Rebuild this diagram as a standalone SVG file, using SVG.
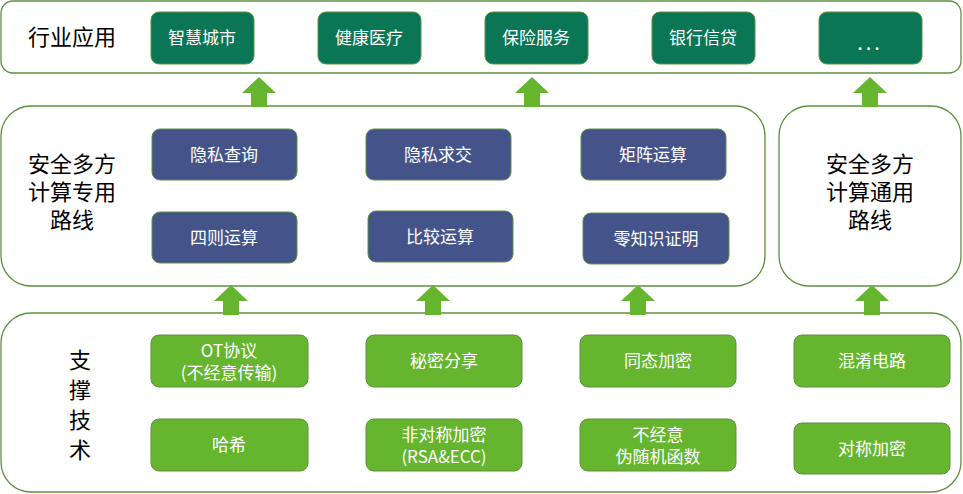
<svg xmlns="http://www.w3.org/2000/svg" width="963" height="494" viewBox="0 0 963 494">
<defs><style>
.c{fill:#fff;stroke:#5f9140;stroke-width:1.3}
.a{fill:#0b7656;stroke:#5f9140;stroke-width:1}
.b{fill:#44548a;stroke:#5f9140;stroke-width:1}
.g{fill:#66b52f;stroke:#5f9140;stroke-width:1}
.ar{fill:#66b52f}
text{font-family:"Noto Sans CJK SC","Liberation Sans",sans-serif;text-anchor:middle}
.l{font-size:22px;fill:#000}
.t{font-size:17px;fill:#fff}
</style>
<path id="up" d="M-17,14 L0,-2 L17,14 L8,14 L8,28 L-8,28 L-8,14Z"/></defs>
<g id="containers">
<rect class="c" x="1" y="1" width="960" height="72" rx="12"/>
<rect class="c" x="1" y="106" width="764" height="180" rx="30"/>
<rect class="c" x="779" y="106" width="182" height="180" rx="30"/>
<rect class="c" x="1" y="313" width="960" height="179" rx="30"/>
<text class="l" x="72" y="45">行业应用</text>
<text class="l" x="72" y="172">安全多方</text><text class="l" x="72" y="200">计算专用</text><text class="l" x="72" y="228">路线</text>
<text class="l" x="870" y="172">安全多方</text><text class="l" x="870" y="200">计算通用</text><text class="l" x="870" y="228">路线</text>
<text class="l" x="80" y="368">支</text><text class="l" x="80" y="398">撑</text><text class="l" x="80" y="428">技</text><text class="l" x="80" y="458">术</text>
</g>
<g id="connectors">
<use href="#up" class="ar" x="259" y="79"/><use href="#up" class="ar" x="532" y="79"/><use href="#up" class="ar" x="870" y="79"/>
<use href="#up" class="ar" x="231" y="287"/><use href="#up" class="ar" x="433" y="287"/><use href="#up" class="ar" x="638" y="287"/><use href="#up" class="ar" x="872" y="287"/>
</g>
<g id="n1"><rect class="a" x="151" y="12" width="103" height="52" rx="8"/><text class="t" x="202" y="44">智慧城市</text></g>
<g id="n2"><rect class="a" x="318" y="12" width="103" height="52" rx="8"/><text class="t" x="369" y="44">健康医疗</text></g>
<g id="n3"><rect class="a" x="485" y="12" width="103" height="52" rx="8"/><text class="t" x="536" y="44">保险服务</text></g>
<g id="n4"><rect class="a" x="652" y="12" width="103" height="52" rx="8"/><text class="t" x="703" y="44">银行信贷</text></g>
<g id="n5"><rect class="a" x="819" y="12" width="103" height="52" rx="8"/><text class="t" x="870" y="50" style="font-size:20px;letter-spacing:3px">...</text></g>
<g id="m1"><rect class="b" x="152" y="129" width="145" height="51" rx="8"/><text class="t" x="224" y="161">隐私查询</text></g>
<g id="m2"><rect class="b" x="366" y="129" width="145" height="51" rx="8"/><text class="t" x="438" y="161">隐私求交</text></g>
<g id="m3"><rect class="b" x="581" y="129" width="145" height="51" rx="8"/><text class="t" x="653" y="161">矩阵运算</text></g>
<g id="m4"><rect class="b" x="152" y="212" width="145" height="51" rx="8"/><text class="t" x="224" y="244">四则运算</text></g>
<g id="m5"><rect class="b" x="368" y="211" width="145" height="51" rx="8"/><text class="t" x="440" y="243">比较运算</text></g>
<g id="m6"><rect class="b" x="583" y="213" width="146" height="51" rx="8"/><text class="t" x="656" y="245">零知识证明</text></g>
<g id="s1"><rect class="g" x="151" y="335" width="157" height="52" rx="8"/><text class="t" x="229" y="357">OT协议</text><text class="t" x="229" y="379">(不经意传输)</text></g>
<g id="s2"><rect class="g" x="366" y="335" width="156" height="52" rx="8"/><text class="t" x="444" y="367">秘密分享</text></g>
<g id="s3"><rect class="g" x="580" y="335" width="156" height="52" rx="8"/><text class="t" x="658" y="367">同态加密</text></g>
<g id="s4"><rect class="g" x="794" y="335" width="156" height="52" rx="8"/><text class="t" x="872" y="367">混淆电路</text></g>
<g id="s5"><rect class="g" x="151" y="419" width="157" height="52" rx="8"/><text class="t" x="229" y="451">哈希</text></g>
<g id="s6"><rect class="g" x="366" y="419" width="156" height="52" rx="8"/><text class="t" x="444" y="441">非对称加密</text><text class="t" x="444" y="463">(RSA&amp;ECC)</text></g>
<g id="s7"><rect class="g" x="580" y="419" width="156" height="52" rx="8"/><text class="t" x="658" y="441">不经意</text><text class="t" x="658" y="463">伪随机函数</text></g>
<g id="s8"><rect class="g" x="794" y="423" width="156" height="51" rx="8"/><text class="t" x="872" y="455">对称加密</text></g>
</svg>
